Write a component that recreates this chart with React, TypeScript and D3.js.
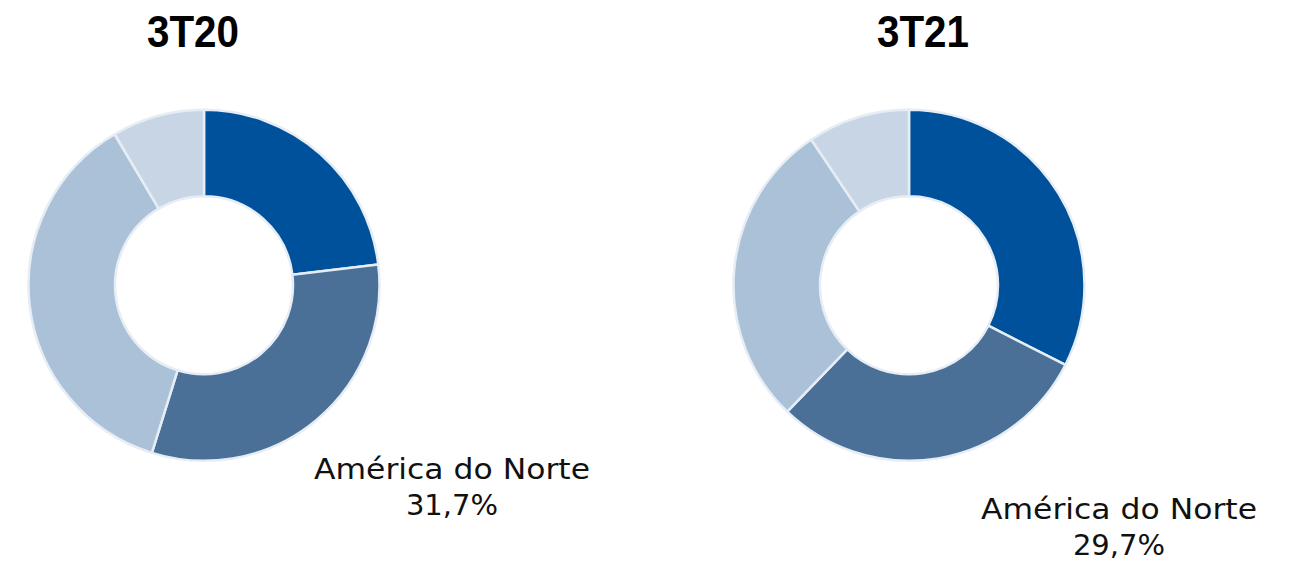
import React, { useRef, useEffect } from "react";
import * as d3 from "d3";

// regions, clockwise from 12 o'clock
const regions = ["Região 1", "América do Norte", "Região 3", "Região 4"];
const values3T20 = [23.1, 31.7, 36.7, 8.5];
const values3T21 = [32.5, 29.7, 28.4, 9.4];
const periods = ["3T20", "3T21"];
const colors = ["#00519C", "#4A7098", "#AAC1D8", "#C7D5E5"];

const W = 1290;
const H = 564;

const App = () => {
  const ref = useRef<SVGSVGElement | null>(null);

  useEffect(() => {
    if (!ref.current) return;
    const svg = d3.select(ref.current);
    svg.selectAll("*").remove();

    const pie = d3
      .pie<number>()
      .sort(null)
      .value((d) => d);

    const arc = d3
      .arc<d3.PieArcDatum<number>>()
      .innerRadius(89)
      .outerRadius(175.5);

    const charts = [
      { title: periods[0], values: values3T20, cx: 204, titleX: 193, labelX: 452, labelY: 479 },
      { title: periods[1], values: values3T21, cx: 909, titleX: 923, labelX: 1119, labelY: 519 },
    ];

    charts.forEach((c) => {
      const g = svg.append("g").attr("transform", `translate(${c.cx},285.3)`);
      g.selectAll("path")
        .data(pie(c.values))
        .join("path")
        .attr("d", arc)
        .attr("fill", (d, i) => colors[i])
        .attr("stroke", "#E6EDF4")
        .attr("stroke-width", 2.5)
        .attr("stroke-linejoin", "round");

      svg
        .append("text")
        .attr("x", c.titleX)
        .attr("y", 47)
        .attr("text-anchor", "middle")
        .attr("font-family", "Liberation Sans, Arial, sans-serif")
        .attr("font-weight", "bold")
        .attr("font-size", 44)
        .attr("textLength", 92)
        .attr("lengthAdjust", "spacingAndGlyphs")
        .attr("fill", "#000")
        .text(c.title);

      const idx = regions.indexOf("América do Norte");
      const lbl = svg
        .append("text")
        .attr("text-anchor", "middle")
        .attr("font-family", "DejaVu Sans, sans-serif")
        .attr("font-size", 29)
        .attr("fill", "#111");
      lbl
        .append("tspan")
        .attr("x", c.labelX)
        .attr("y", c.labelY)
        .attr("textLength", 276)
        .attr("lengthAdjust", "spacingAndGlyphs")
        .text(regions[idx]);
      lbl
        .append("tspan")
        .attr("x", c.labelX)
        .attr("y", c.labelY + 36)
        .text(d3.format(".1f")(c.values[idx]).replace(".", ",") + "%");
    });
  }, []);

  return (
    <div style={{ width: W, height: H, margin: 0 }}>
      <svg
        ref={ref}
        width={W}
        height={H}
        style={{ position: "absolute", left: 0, top: 0, background: "#fff" }}
      />
    </div>
  );
};

export default App;
